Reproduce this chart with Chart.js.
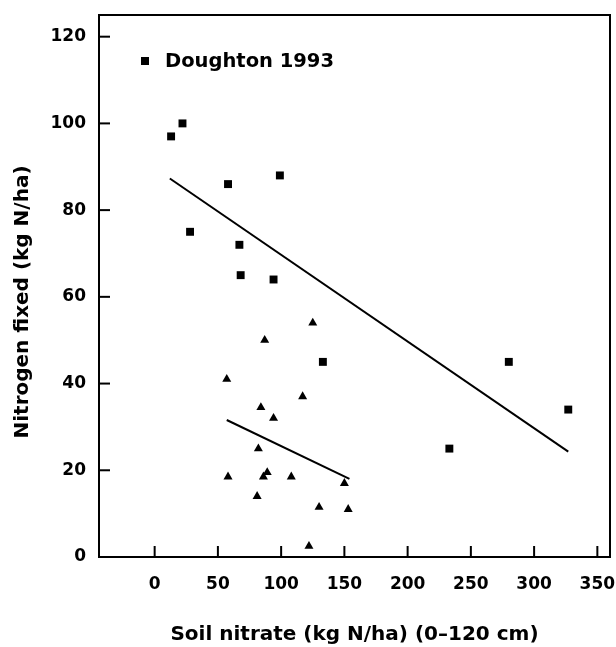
<!DOCTYPE html>
<html>
<head>
<meta charset="utf-8">
<script src="https://cdn.jsdelivr.net/npm/chart.js@4/dist/chart.umd.min.js"></script>
<style>
  body { margin: 0; background: #fff; }
  #wrap { width: 616px; height: 647px; }
</style>
</head>
<body>
<div id="wrap"><canvas id="nChart"></canvas></div>
<script>
// Doughton 1993 (squares)
const sqX = [13, 22, 58, 99, 28, 67, 68, 94, 133, 280, 327, 233];
const sqY = [97, 100, 86, 88, 75, 72, 65, 64, 45, 45, 34, 25];
// second set (triangles)
const triX = [125, 87, 57, 117, 84, 94, 82, 58, 89, 86, 108, 81, 130, 122, 150, 153];
const triY = [54, 50, 41, 37, 34.5, 32, 25, 18.5, 19.5, 18.5, 18.5, 14, 11.5, 2.5, 17, 11];
// fitted lines
const fitSqX = [12, 327];
const fitSqY = [87.3, 24.3];
const fitTriX = [57, 154];
const fitTriY = [31.6, 18];
// axes
const xTicks = [0, 50, 100, 150, 200, 250, 300, 350];
const yTicks = [0, 20, 40, 60, 80, 100, 120];
const legendLabel = 'Doughton 1993';
const yTitle = 'Nitrogen fixed (kg N/ha)';

const pts = (xs, ys) => xs.map((x, i) => ({ x: x, y: ys[i] }));
const FONT = "'DejaVu Sans', sans-serif";

// frame on top/right, inward ticks, legend in the corner, y title (sits a bit low in the original)
const framePlugin = {
    id: 'frame',
    afterDraw(chart) {
        const c = chart.ctx, a = chart.chartArea;
        const xs = chart.scales.x, ys = chart.scales.y;
        c.save();
        c.strokeStyle = '#000';
        c.lineWidth = 2;
        c.beginPath();
        c.moveTo(a.left, a.top);
        c.lineTo(a.right, a.top);
        c.lineTo(a.right, a.bottom);
        c.stroke();
        for (const v of xTicks) {
            const px = xs.getPixelForValue(v);
            c.beginPath();
            c.moveTo(px, a.bottom);
            c.lineTo(px, a.bottom - 11);
            c.stroke();
        }
        for (const v of yTicks) {
            const py = ys.getPixelForValue(v);
            c.beginPath();
            c.moveTo(a.left, py);
            c.lineTo(a.left + 11, py);
            c.stroke();
        }
        // legend
        const lx = a.left + 46, ly = a.top + 46;
        c.fillStyle = '#000';
        c.fillRect(lx - 4, ly - 4, 8, 8);
        c.font = "bold 19.5px " + FONT;
        c.textBaseline = 'middle';
        c.fillText(legendLabel, lx + 20, ly + 1);
        // y axis title
        c.translate(23, (a.top + a.bottom) / 2 + 16);
        c.rotate(-Math.PI / 2);
        c.font = "bold 20px " + FONT;
        c.textAlign = 'center';
        c.fillText(yTitle, 0, 0);
        c.restore();
    }
};

const config = {
    type: 'scatter',
    data: {
        datasets: [
            { label: legendLabel, data: pts(sqX, sqY), pointStyle: 'rect', pointRadius: 5.6,
              backgroundColor: '#000', borderColor: '#000', borderWidth: 0 },
            { label: 'triangles', data: pts(triX, triY), pointStyle: 'triangle', pointRadius: 5.2,
              backgroundColor: '#000', borderColor: '#000', borderWidth: 0 },
            { type: 'line', label: 'fit1', data: pts(fitSqX, fitSqY), showLine: true,
              borderColor: '#000', borderWidth: 2, pointRadius: 0, fill: false },
            { type: 'line', label: 'fit2', data: pts(fitTriX, fitTriY), showLine: true,
              borderColor: '#000', borderWidth: 2, pointRadius: 0, fill: false }
        ]
    },
    options: {
        responsive: true,
        maintainAspectRatio: false,
        animation: false,
        layout: { padding: { top: 15, right: 6, left: 0, bottom: 0 } },
        plugins: { legend: { display: false }, tooltip: { enabled: false } },
        scales: {
            x: {
                type: 'linear', min: -44, max: 360,
                afterBuildTicks: s => { s.ticks = xTicks.map(v => ({ value: v })); },
                afterFit: s => { s.height = 90; s.paddingLeft = 0; s.paddingRight = 0; },
                grid: { drawOnChartArea: false, drawTicks: false },
                border: { color: '#000', width: 2 },
                ticks: { color: '#000', padding: 17, font: { family: FONT, size: 17, weight: 'bold' } },
                title: { display: true, text: 'Soil nitrate (kg N/ha) (0–120 cm)', color: '#000',
                         padding: { top: 0, bottom: 0 }, font: { family: FONT, size: 20, weight: 'bold' } }
            },
            y: {
                type: 'linear', min: 0, max: 125,
                afterBuildTicks: s => { s.ticks = yTicks.map(v => ({ value: v })); },
                afterFit: s => { s.width = 99; s.paddingTop = 0; s.paddingBottom = 0; },
                grid: { drawOnChartArea: false, drawTicks: false },
                border: { color: '#000', width: 2 },
                ticks: { color: '#000', padding: 13, font: { family: FONT, size: 17, weight: 'bold' } },
                title: { display: false }
            }
        }
    },
    plugins: [framePlugin]
};

const ctx = document.getElementById('nChart').getContext('2d');
const nChart = new Chart(ctx, config);
</script>
</body>
</html>
